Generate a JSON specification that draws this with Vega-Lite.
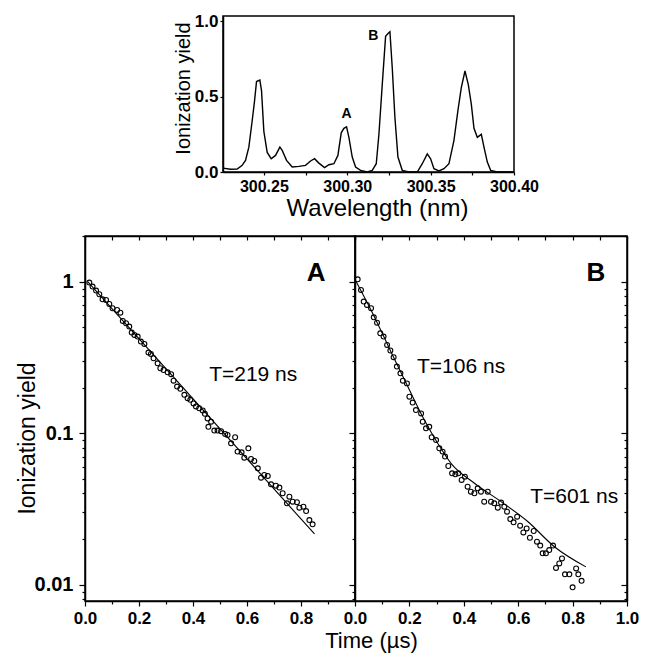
{
  "$schema": "https://vega.github.io/schema/vega-lite/v6.json",
  "background": "white",
  "padding": {"left": 15, "top": 11, "right": 5, "bottom": 5},
  "spacing": 4,
  "config": {
    "font": "Liberation Sans",
    "view": {"stroke": "black", "strokeWidth": 1.5},
    "axis": {
      "domainColor": "black", "domainWidth": 1.5, "tickColor": "black", "tickWidth": 1.2,
      "labelColor": "black", "labelFont": "Liberation Sans", "labelFontWeight": "bold",
      "titleFont": "Liberation Sans", "titleFontWeight": "normal", "titleColor": "black",
      "grid": false, "labelFlush": false, "labelOverlap": false
    }
  },
  "vconcat": [
    {
      "hconcat": [
        {
          "width": 138, "height": 156,
          "data": {"values": [{"a": 0}]},
          "mark": {"type": "point", "opacity": 0},
          "view": {"stroke": null}
        },
        {
          "width": 291, "height": 156,
          "layer": [
            {
              "data": {"values": [
                {"wl": 300.2255, "y": 0.026}, {"wl": 300.230, "y": 0.018}, {"wl": 300.234, "y": 0.020}, {"wl": 300.237, "y": 0.044},
                {"wl": 300.239, "y": 0.077}, {"wl": 300.241, "y": 0.165}, {"wl": 300.243, "y": 0.34}, {"wl": 300.2444, "y": 0.47},
                {"wl": 300.2456, "y": 0.60}, {"wl": 300.2476, "y": 0.61}, {"wl": 300.2486, "y": 0.54}, {"wl": 300.25, "y": 0.27},
                {"wl": 300.252, "y": 0.13}, {"wl": 300.2544, "y": 0.088}, {"wl": 300.257, "y": 0.11}, {"wl": 300.2596, "y": 0.165},
                {"wl": 300.261, "y": 0.143}, {"wl": 300.2636, "y": 0.077}, {"wl": 300.267, "y": 0.033}, {"wl": 300.271, "y": 0.037},
                {"wl": 300.275, "y": 0.044}, {"wl": 300.278, "y": 0.073}, {"wl": 300.2804, "y": 0.088}, {"wl": 300.283, "y": 0.059},
                {"wl": 300.2864, "y": 0.029}, {"wl": 300.289, "y": 0.048}, {"wl": 300.292, "y": 0.055}, {"wl": 300.2944, "y": 0.11},
                {"wl": 300.2964, "y": 0.26}, {"wl": 300.298, "y": 0.29}, {"wl": 300.2996, "y": 0.30}, {"wl": 300.301, "y": 0.23},
                {"wl": 300.303, "y": 0.099}, {"wl": 300.305, "y": 0.033}, {"wl": 300.308, "y": 0.011}, {"wl": 300.312, "y": 0.0},
                {"wl": 300.315, "y": 0.011}, {"wl": 300.3174, "y": 0.055}, {"wl": 300.319, "y": 0.25}, {"wl": 300.321, "y": 0.58},
                {"wl": 300.323, "y": 0.90}, {"wl": 300.3246, "y": 0.92}, {"wl": 300.3256, "y": 0.93}, {"wl": 300.327, "y": 0.69},
                {"wl": 300.3286, "y": 0.36}, {"wl": 300.3304, "y": 0.099}, {"wl": 300.333, "y": 0.011}, {"wl": 300.337, "y": 0.0},
                {"wl": 300.342, "y": 0.0}, {"wl": 300.345, "y": 0.055}, {"wl": 300.348, "y": 0.12}, {"wl": 300.35, "y": 0.088},
                {"wl": 300.352, "y": 0.022}, {"wl": 300.355, "y": 0.007}, {"wl": 300.358, "y": 0.022}, {"wl": 300.361, "y": 0.055},
                {"wl": 300.364, "y": 0.21}, {"wl": 300.3664, "y": 0.41}, {"wl": 300.3684, "y": 0.56}, {"wl": 300.3706, "y": 0.67},
                {"wl": 300.3726, "y": 0.58}, {"wl": 300.3744, "y": 0.45}, {"wl": 300.376, "y": 0.29}, {"wl": 300.378, "y": 0.23},
                {"wl": 300.3804, "y": 0.25}, {"wl": 300.382, "y": 0.165}, {"wl": 300.384, "y": 0.066}, {"wl": 300.386, "y": 0.011},
                {"wl": 300.39, "y": 0.0}, {"wl": 300.40, "y": 0.0}
              ]},
              "mark": {"type": "line", "color": "black", "strokeWidth": 1.4},
              "encoding": {
                "x": {"field": "wl", "type": "quantitative",
                  "scale": {"domain": [300.2255, 300.40], "nice": false, "zero": false},
                  "axis": {"values": [300.25, 300.275, 300.30, 300.325, 300.35, 300.375, 300.40],
                    "labelExpr": "round(datum.value*1000)%50==0 ? format(datum.value,'.2f') : ''",
                    "tickSize": 3, "labelFontSize": 16, "labelPadding": 3,
                    "title": "Wavelength (nm)", "titleFontSize": 24, "titleX": 154, "titleY": 43,
                    "titleBaseline": "alphabetic", "titleAlign": "center"}},
                "y": {"field": "y", "type": "quantitative",
                  "scale": {"domain": [0, 1.035], "nice": false},
                  "axis": {"values": [0, 0.25, 0.5, 0.75, 1.0],
                    "labelExpr": "round(datum.value*100)%50==0 ? format(datum.value,'.1f') : ''",
                    "tickSize": 3, "labelFontSize": 17, "labelPadding": 2,
                    "title": "Ionization yield", "titleFontSize": 20, "titleX": -34, "titleY": 72,
                    "titleBaseline": "alphabetic", "titleAlign": "center"}}
              }
            },
            {
              "data": {"values": [{"wl": 300.2996, "y": 0.385, "label": "A"}, {"wl": 300.3156, "y": 0.905, "label": "B"}]},
              "mark": {"type": "text", "fontWeight": "bold", "fontSize": 14, "color": "black", "baseline": "middle", "align": "center"},
              "encoding": {
                "x": {"field": "wl", "type": "quantitative"},
                "y": {"field": "y", "type": "quantitative"},
                "text": {"field": "label"}
              }
            }
          ]
        }
      ],
      "spacing": 0,
      "bounds": "flush"
    },
    {
      "hconcat": [
        {
          "width": 270, "height": 365,
          "layer": [
            {
              "data": {"values": [
                {"t": 0.016, "v": 0.985}, {"t": 0.028, "v": 0.927}, {"t": 0.041, "v": 0.873}, {"t": 0.053, "v": 0.825},
                {"t": 0.065, "v": 0.764}, {"t": 0.078, "v": 0.757}, {"t": 0.090, "v": 0.712}, {"t": 0.102, "v": 0.667},
                {"t": 0.119, "v": 0.650}, {"t": 0.131, "v": 0.624}, {"t": 0.140, "v": 0.550}, {"t": 0.152, "v": 0.531},
                {"t": 0.164, "v": 0.505}, {"t": 0.173, "v": 0.461}, {"t": 0.183, "v": 0.445}, {"t": 0.195, "v": 0.434},
                {"t": 0.207, "v": 0.402}, {"t": 0.220, "v": 0.388}, {"t": 0.235, "v": 0.340}, {"t": 0.244, "v": 0.333},
                {"t": 0.254, "v": 0.312}, {"t": 0.269, "v": 0.289}, {"t": 0.279, "v": 0.268}, {"t": 0.291, "v": 0.261},
                {"t": 0.306, "v": 0.252}, {"t": 0.319, "v": 0.245}, {"t": 0.328, "v": 0.222}, {"t": 0.341, "v": 0.203},
                {"t": 0.353, "v": 0.196}, {"t": 0.368, "v": 0.179}, {"t": 0.380, "v": 0.170}, {"t": 0.390, "v": 0.166},
                {"t": 0.402, "v": 0.157}, {"t": 0.411, "v": 0.150}, {"t": 0.423, "v": 0.146}, {"t": 0.436, "v": 0.141},
                {"t": 0.444, "v": 0.134}, {"t": 0.454, "v": 0.125}, {"t": 0.467, "v": 0.119}, {"t": 0.457, "v": 0.110},
                {"t": 0.479, "v": 0.104}, {"t": 0.491, "v": 0.104}, {"t": 0.504, "v": 0.103}, {"t": 0.519, "v": 0.0987},
                {"t": 0.528, "v": 0.0973}, {"t": 0.556, "v": 0.0939}, {"t": 0.541, "v": 0.0857}, {"t": 0.565, "v": 0.0755},
                {"t": 0.580, "v": 0.0747}, {"t": 0.590, "v": 0.0689}, {"t": 0.605, "v": 0.0794}, {"t": 0.615, "v": 0.0675},
                {"t": 0.627, "v": 0.0655}, {"t": 0.640, "v": 0.0586}, {"t": 0.652, "v": 0.0508}, {"t": 0.664, "v": 0.0530},
                {"t": 0.677, "v": 0.0522}, {"t": 0.689, "v": 0.0459}, {"t": 0.707, "v": 0.0450}, {"t": 0.720, "v": 0.0437},
                {"t": 0.732, "v": 0.0401}, {"t": 0.748, "v": 0.0344}, {"t": 0.757, "v": 0.0381}, {"t": 0.769, "v": 0.0353},
                {"t": 0.785, "v": 0.0350}, {"t": 0.794, "v": 0.0322}, {"t": 0.809, "v": 0.0327}, {"t": 0.819, "v": 0.0306},
                {"t": 0.831, "v": 0.0267}, {"t": 0.843, "v": 0.0250}
              ]},
              "mark": {"type": "point", "shape": "circle", "filled": false, "size": 24, "strokeWidth": 1.1, "color": "black", "opacity": 1},
              "encoding": {
                "x": {"field": "t", "type": "quantitative",
                  "scale": {"domain": [0, 1], "nice": false, "zero": false},
                  "axis": {"orient": "bottom", "values": [0, 0.1, 0.2, 0.3, 0.4, 0.5, 0.6, 0.7, 0.8, 0.9],
                    "labelExpr": "round(datum.value*10)%2==0 ? format(datum.value,'.1f') : ''",
                    "tickSize": {"condition": {"test": "round(datum.value*10)%2==0", "value": 5}, "value": 3},
                    "labelFontSize": 17, "labelPadding": 4, "title": null}},
                "y": {"field": "v", "type": "quantitative",
                  "scale": {"type": "log", "domain": [0.0078, 2.0], "nice": false},
                  "axis": {"orient": "left",
                    "values": [0.008, 0.009, 0.01, 0.02, 0.03, 0.04, 0.05, 0.06, 0.07, 0.08, 0.09, 0.1, 0.2, 0.3, 0.4, 0.5, 0.6, 0.7, 0.8, 0.9, 1, 2],
                    "labelExpr": "abs(log(datum.value)/LN10 - round(log(datum.value)/LN10)) < 0.001 ? (datum.value >= 0.9 ? '1' : (datum.value >= 0.09 ? '0.1' : '0.01')) : ''",
                    "tickSize": {"condition": {"test": "abs(log(datum.value)/LN10 - round(log(datum.value)/LN10)) < 0.001", "value": 6}, "value": 3},
                    "labelFontSize": 20, "labelPadding": 6,
                    "title": "Ionization yield", "titleFontSize": 23, "titleX": -51, "titleY": 202,
                    "titleBaseline": "alphabetic", "titleAlign": "center"}}
              }
            },
            {
              "data": {"values": [{"t": 0.01, "v": 1.0}, {"t": 0.85, "v": 0.0216}]},
              "mark": {"type": "line", "color": "black", "strokeWidth": 1.1},
              "encoding": {
                "x": {"field": "t", "type": "quantitative",
                  "axis": {"orient": "top", "values": [0, 0.1, 0.2, 0.3, 0.4, 0.5, 0.6, 0.7, 0.8, 0.9, 1.0], "labels": false, "tickSize": -4, "title": null}},
                "y": {"field": "v", "type": "quantitative", "axis": null}
              }
            },
            {
              "data": {"values": [{"t": 0.856, "v": 1.135, "label": "A"}]},
              "mark": {"type": "text", "fontWeight": "bold", "fontSize": 26, "color": "black", "baseline": "middle", "align": "center"},
              "encoding": {
                "x": {"field": "t", "type": "quantitative", "axis": null},
                "y": {"field": "v", "type": "quantitative", "axis": null},
                "text": {"field": "label"}
              }
            },
            {
              "data": {"values": [{"t": 0.623, "v": 0.242, "label": "T=219 ns"}]},
              "mark": {"type": "text", "fontSize": 21, "color": "black", "baseline": "middle", "align": "center"},
              "encoding": {
                "x": {"field": "t", "type": "quantitative", "axis": null},
                "y": {"field": "v", "type": "quantitative", "axis": null},
                "text": {"field": "label"}
              }
            }
          ],
          "resolve": {"axis": {"x": "independent", "y": "independent"}}
        },
        {
          "width": 272, "height": 365,
          "layer": [
            {
              "data": {"values": [
                {"t": 0.0098, "v": 1.036}, {"t": 0.022, "v": 0.881}, {"t": 0.032, "v": 0.738}, {"t": 0.044, "v": 0.702},
                {"t": 0.059, "v": 0.667}, {"t": 0.069, "v": 0.581}, {"t": 0.081, "v": 0.536}, {"t": 0.093, "v": 0.456},
                {"t": 0.105, "v": 0.434}, {"t": 0.118, "v": 0.382}, {"t": 0.130, "v": 0.351}, {"t": 0.142, "v": 0.317},
                {"t": 0.154, "v": 0.275}, {"t": 0.167, "v": 0.248}, {"t": 0.176, "v": 0.222}, {"t": 0.191, "v": 0.213},
                {"t": 0.200, "v": 0.174}, {"t": 0.212, "v": 0.159}, {"t": 0.224, "v": 0.142}, {"t": 0.243, "v": 0.135},
                {"t": 0.249, "v": 0.119}, {"t": 0.261, "v": 0.1076}, {"t": 0.273, "v": 0.110}, {"t": 0.282, "v": 0.0939},
                {"t": 0.298, "v": 0.090}, {"t": 0.310, "v": 0.0794}, {"t": 0.322, "v": 0.0755}, {"t": 0.331, "v": 0.070},
                {"t": 0.343, "v": 0.0607}, {"t": 0.357, "v": 0.0543}, {"t": 0.369, "v": 0.0535}, {"t": 0.380, "v": 0.0543},
                {"t": 0.392, "v": 0.0491}, {"t": 0.404, "v": 0.0516}, {"t": 0.414, "v": 0.0443}, {"t": 0.426, "v": 0.0411},
                {"t": 0.439, "v": 0.0401}, {"t": 0.451, "v": 0.0432}, {"t": 0.463, "v": 0.0411}, {"t": 0.475, "v": 0.0353},
                {"t": 0.488, "v": 0.0411}, {"t": 0.500, "v": 0.0353}, {"t": 0.512, "v": 0.0344}, {"t": 0.525, "v": 0.0322},
                {"t": 0.537, "v": 0.0348}, {"t": 0.549, "v": 0.0327}, {"t": 0.559, "v": 0.0303}, {"t": 0.571, "v": 0.0271},
                {"t": 0.583, "v": 0.0258}, {"t": 0.596, "v": 0.0281}, {"t": 0.607, "v": 0.0245}, {"t": 0.619, "v": 0.0221},
                {"t": 0.631, "v": 0.0235}, {"t": 0.643, "v": 0.0204}, {"t": 0.657, "v": 0.0226}, {"t": 0.669, "v": 0.0192},
                {"t": 0.681, "v": 0.0181}, {"t": 0.690, "v": 0.0161}, {"t": 0.702, "v": 0.0161}, {"t": 0.714, "v": 0.0169},
                {"t": 0.728, "v": 0.0181}, {"t": 0.739, "v": 0.0129}, {"t": 0.751, "v": 0.0138}, {"t": 0.761, "v": 0.0149},
                {"t": 0.772, "v": 0.0117}, {"t": 0.788, "v": 0.0117}, {"t": 0.800, "v": 0.0096}, {"t": 0.813, "v": 0.0128},
                {"t": 0.821, "v": 0.0117}, {"t": 0.833, "v": 0.0106}
              ]},
              "mark": {"type": "point", "shape": "circle", "filled": false, "size": 24, "strokeWidth": 1.1, "color": "black", "opacity": 1},
              "encoding": {
                "x": {"field": "t", "type": "quantitative",
                  "scale": {"domain": [0, 1], "nice": false, "zero": false},
                  "axis": {"orient": "bottom", "values": [0, 0.1, 0.2, 0.3, 0.4, 0.5, 0.6, 0.7, 0.8, 0.9, 1.0],
                    "labelExpr": "round(datum.value*10)%2==0 ? format(datum.value,'.1f') : ''",
                    "tickSize": {"condition": {"test": "round(datum.value*10)%2==0", "value": 5}, "value": 3},
                    "labelFontSize": 17, "labelPadding": 4,
                    "title": "Time (µs)", "titleFontSize": 22, "titleX": 16, "titleY": 46,
                    "titleBaseline": "alphabetic", "titleAlign": "center"}},
                "y": {"field": "v", "type": "quantitative",
                  "scale": {"type": "log", "domain": [0.0078, 2.0], "nice": false},
                  "axis": {"orient": "left",
                    "values": [0.008, 0.009, 0.01, 0.02, 0.03, 0.04, 0.05, 0.06, 0.07, 0.08, 0.09, 0.1, 0.2, 0.3, 0.4, 0.5, 0.6, 0.7, 0.8, 0.9, 1, 2],
                    "labels": false,
                    "tickSize": {"condition": {"test": "abs(log(datum.value)/LN10 - round(log(datum.value)/LN10)) < 0.001", "value": 6}, "value": 3},
                    "title": null}}
              }
            },
            {
              "data": {"values": [
                {"t": 0.004, "v": 1.0}, {"t": 0.071, "v": 0.587}, {"t": 0.132, "v": 0.345}, {"t": 0.194, "v": 0.203},
                {"t": 0.255, "v": 0.122}, {"t": 0.304, "v": 0.0857}, {"t": 0.353, "v": 0.0632}, {"t": 0.439, "v": 0.0467},
                {"t": 0.537, "v": 0.0353}, {"t": 0.635, "v": 0.0261}, {"t": 0.733, "v": 0.0178}, {"t": 0.849, "v": 0.0131}
              ]},
              "mark": {"type": "line", "color": "black", "strokeWidth": 1.1, "interpolate": "monotone"},
              "encoding": {
                "x": {"field": "t", "type": "quantitative",
                  "axis": {"orient": "top", "values": [0, 0.1, 0.2, 0.3, 0.4, 0.5, 0.6, 0.7, 0.8, 0.9, 1.0], "labels": false, "tickSize": -4, "title": null}},
                "y": {"field": "v", "type": "quantitative",
                  "axis": {"orient": "right",
                    "values": [0.008, 0.009, 0.01, 0.02, 0.03, 0.04, 0.05, 0.06, 0.07, 0.08, 0.09, 0.1, 0.2, 0.3, 0.4, 0.5, 0.6, 0.7, 0.8, 0.9, 1, 2],
                    "labels": false,
                    "tickSize": {"condition": {"test": "abs(log(datum.value)/LN10 - round(log(datum.value)/LN10)) < 0.001", "value": -6}, "value": -3},
                    "title": null}}
              }
            },
            {
              "data": {"values": [{"t": 0.886, "v": 1.135, "label": "B"}]},
              "mark": {"type": "text", "fontWeight": "bold", "fontSize": 26, "color": "black", "baseline": "middle", "align": "center"},
              "encoding": {
                "x": {"field": "t", "type": "quantitative", "axis": null},
                "y": {"field": "v", "type": "quantitative", "axis": null},
                "text": {"field": "label"}
              }
            },
            {
              "data": {"values": [{"t": 0.390, "v": 0.275, "label": "T=106 ns"}, {"t": 0.806, "v": 0.0381, "label": "T=601 ns"}]},
              "mark": {"type": "text", "fontSize": 21, "color": "black", "baseline": "middle", "align": "center"},
              "encoding": {
                "x": {"field": "t", "type": "quantitative", "axis": null},
                "y": {"field": "v", "type": "quantitative", "axis": null},
                "text": {"field": "label"}
              }
            }
          ],
          "resolve": {"axis": {"x": "independent", "y": "independent"}}
        }
      ],
      "spacing": 0,
      "bounds": "flush"
    }
  ]
}
